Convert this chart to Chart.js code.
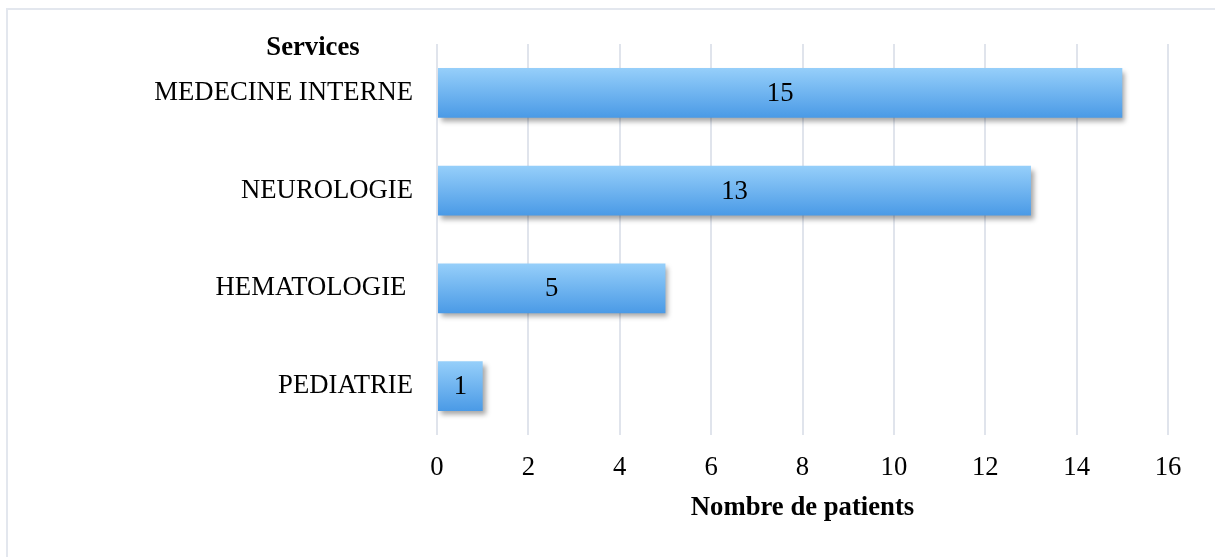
<!DOCTYPE html>
<html lang="fr">
  <head>
    <meta charset="UTF-8" />
    <title>Services - Nombre de patients</title>
    <style>
      body { margin: 0; background: #fff; }
      .wrap { position: relative; width: 1215px; height: 557px; }
      .frame {
        position: absolute; left: 6px; top: 8px; right: 0; bottom: 0;
        border-top: 2px solid #e3e7ee; border-left: 2px solid #e3e7ee;
      }
      canvas { position: absolute; left: 0; top: 0; }
    </style>
  </head>
  <body>
    <div class="wrap">
      <div class="frame"></div>
      <canvas id="servicesChart" width="1215" height="557"></canvas>
    </div>

    <script src="https://cdn.jsdelivr.net/npm/chart.js"></script>
    <script>
      // Daten
      const services = ["MEDECINE INTERNE", "NEUROLOGIE", "HEMATOLOGIE ", "PEDIATRIE"];
      const patients = [15, 13, 5, 1];
      const xTicks = [0, 2, 4, 6, 8, 10, 12, 14, 16];

      const serif = "'Liberation Serif', 'Times New Roman', serif";
      const fontSize = 26.7;
      const barShare = 0.51;

      // Verlauf pro Balken (hell oben, dunkler unten)
      function barGradient(context) {
        const chart = context.chart;
        const yScale = chart.scales.y;
        if (!chart.chartArea || !yScale) return "#6fb4f0";
        const band = (yScale.bottom - yScale.top) / services.length;
        const yc = yScale.getPixelForValue(context.dataIndex);
        const g = chart.ctx.createLinearGradient(0, yc - band * barShare / 2, 0, yc + band * barShare / 2);
        g.addColorStop(0, "#96cffa");
        g.addColorStop(1, "#4a9ae6");
        return g;
      }

      // Schatten + Werte in den Balken + "Services"
      const extras = {
        id: "extras",
        beforeDatasetsDraw(chart) {
          const ctx = chart.ctx;
          ctx.save();
          ctx.shadowColor = "rgba(0, 0, 0, 0.35)";
          ctx.shadowOffsetX = 3;
          ctx.shadowOffsetY = 4;
          ctx.shadowBlur = 5;
        },
        afterDatasetsDraw(chart) {
          const ctx = chart.ctx;
          ctx.restore();
          ctx.save();
          ctx.font = fontSize + "px " + serif;
          ctx.fillStyle = "#000";
          ctx.textAlign = "center";
          ctx.textBaseline = "middle";
          chart.getDatasetMeta(0).data.forEach((bar, i) => {
            ctx.fillText(String(patients[i]), (bar.x + bar.base) / 2, bar.y + 1);
          });
          ctx.font = "bold " + fontSize + "px " + serif;
          ctx.fillText("Services", 313, 48);
          ctx.restore();
        },
      };

      const chart = new Chart(document.getElementById("servicesChart").getContext("2d"), {
        type: "bar",
        data: {
          labels: services,
          datasets: [
            {
              label: "Nombre de patients",
              data: patients,
              backgroundColor: barGradient,
              borderWidth: 0,
              barPercentage: 1,
              categoryPercentage: barShare,
            },
          ],
        },
        options: {
          indexAxis: "y",
          responsive: false,
          animation: false,
          layout: { padding: { top: 44, right: 47, bottom: 0, left: 0 } },
          plugins: {
            legend: { display: false },
            tooltip: { enabled: false },
            title: { display: false },
          },
          scales: {
            x: {
              min: 0,
              max: 16,
              afterBuildTicks: (scale) => {
                scale.ticks = xTicks.map((v) => ({ value: v }));
              },
              afterFit: (scale) => {
                scale.height = 122;
              },
              grid: { color: "#e0e4ec", lineWidth: 2, drawTicks: false },
              border: { display: false },
              ticks: { color: "#000", padding: 17, font: { family: serif, size: fontSize } },
              title: {
                display: true,
                text: "Nombre de patients",
                color: "#000",
                font: { family: serif, size: fontSize, weight: "bold" },
                padding: { top: 0, bottom: 33 },
              },
            },
            y: {
              afterFit: (scale) => {
                scale.width = 437;
              },
              grid: { display: false, drawTicks: false },
              border: { display: false },
              ticks: { color: "#000", padding: 24, font: { family: serif, size: fontSize } },
            },
          },
        },
        plugins: [extras],
      });
    </script>
  </body>
</html>
